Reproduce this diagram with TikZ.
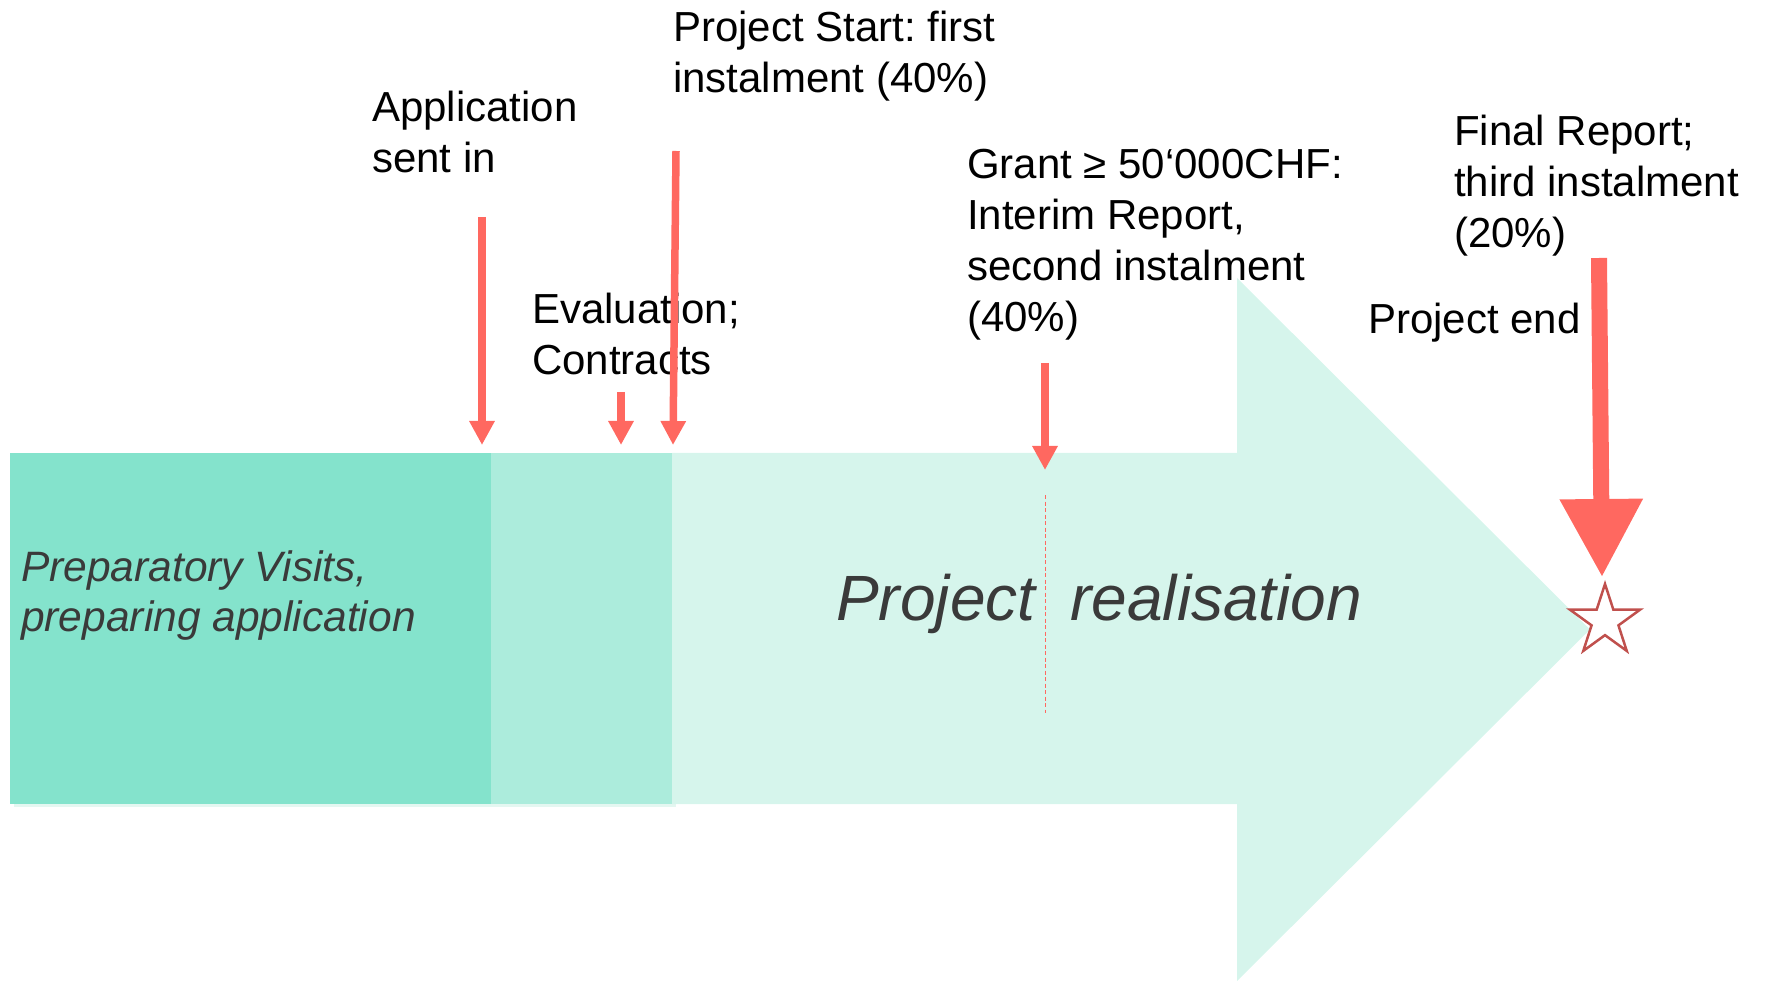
\documentclass[tikz,border=0pt]{standalone}
\usepackage{fontspec}
\setmainfont{Liberation Sans}
\usetikzlibrary{arrows.meta,shapes.geometric}
\definecolor{prep}{HTML}{84E3CC}
\definecolor{evalc}{HTML}{ACECDC}
\definecolor{realc}{HTML}{D6F5EC}
\definecolor{shadowc}{HTML}{E4F7F1}
\definecolor{redarr}{RGB}{255,104,96}
\definecolor{starred}{HTML}{C0504D}
\definecolor{darktext}{HTML}{3A3A3A}
\tikzset{
  lbl/.style={anchor=base west, inner sep=0pt, align=left, font=\fontsize{42}{51}\selectfont},
  itl/.style={lbl, text=darktext, font=\fontsize{42.5}{50}\selectfont\itshape},
  marker/.style={draw=redarr, line width=7.5pt, -{Triangle[width=24pt,length=24pt]}},
  bigmarker/.style={draw=redarr, line width=16pt, -{Triangle[width=79pt,length=78pt]}},
  phase/.style={anchor=north west, inner sep=0pt, outer sep=0pt},
}
\begin{document}
\frenchspacing
\begin{tikzpicture}[x=1pt,y=-1pt]
\useasboundingbox (0,0) rectangle (1765,981);
% faint shadow of the phase bar
\fill[shadowc] (14,457) rectangle (676,807);
% big arrow (project realisation)
\fill[realc] (672,453) -- (1237,453) -- (1237,278) -- (1590,629.5) -- (1237,981) -- (1237,804) -- (672,804) -- cycle;
% phases
\node[phase, fill=prep, minimum width=481pt, minimum height=351pt] (prepbox) at (10,453) {};
\node[phase, fill=evalc, minimum width=181pt, minimum height=351pt] (evalbox) at (491,453) {};
% interim dashed line
\coordinate (d1) at (1045.5,495);
\coordinate (d2) at (1045.5,713);
\draw[redarr, line width=1.2pt, dash pattern=on 4pt off 2.5pt] (d1) -- (d2);
% texts in bar (base anchor = baseline of last line)
\node[itl] (preptext) at (21,631) {Preparatory Visits,\\preparing application};
\node[lbl, text=darktext, font=\fontsize{64}{77}\selectfont\itshape] (realtext) at (836,620) {Project\hspace{35pt}realisation};
% labels
\node[lbl] (app) at (372,173) {Application\\sent in};
\node[lbl] (evl) at (532,375) {Evaluation;\\Contracts};
\node[lbl] (start) at (673,93) {Project Start: first\\instalment (40\%)};
\node[lbl] (grant) at (967,332) {Grant ≥ 50‘000CHF:\\Interim Report,\\second instalment\\(40\%)};
\node[lbl] (final) at (1454,248) {Final Report;\\third instalment\\(20\%)};
\node[lbl] (pend) at (1368,334) {Project end};
% star
\node[star, star points=5, star point ratio=2.618, minimum size=74pt, inner sep=0pt, draw=starred, fill=white, line width=2.5pt] (star) at (1605,621) {};
% markers
\coordinate (a1s) at (482,217); \coordinate (a1e) at (482,445);
\coordinate (a2s) at (621,392); \coordinate (a2e) at (621,445);
\coordinate (a3s) at (676,151); \coordinate (a3e) at (673,445);
\coordinate (a4s) at (1045,363); \coordinate (a4e) at (1045,470);
\coordinate (a5s) at (1599,258); \coordinate (a5e) at (1602,577);
\draw[marker] (a1s) -- (a1e);
\draw[marker] (a2s) -- (a2e);
\draw[marker] (a3s) -- (a3e);
\draw[marker] (a4s) -- (a4e);
\draw[bigmarker] (a5s) -- (a5e);
\end{tikzpicture}
\end{document}
